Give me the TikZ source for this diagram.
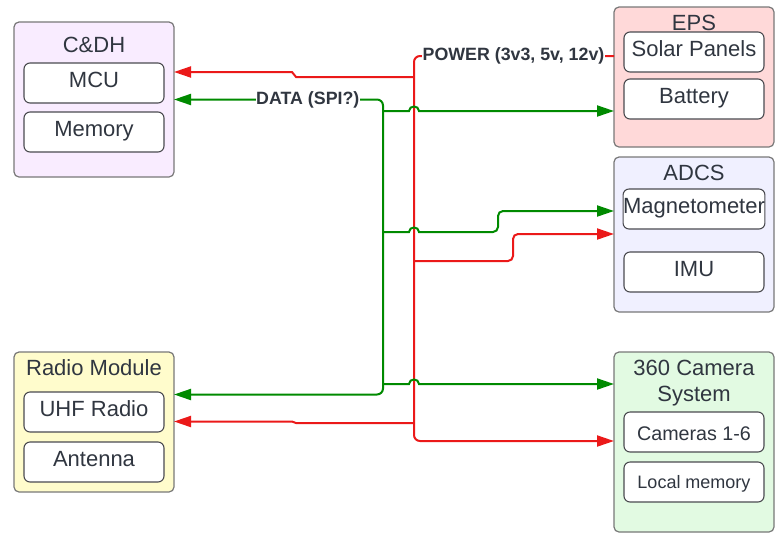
\documentclass[tikz,border=0pt]{standalone}
\usepackage{fontspec}
\setmainfont{Liberation Sans}
\usetikzlibrary{arrows.meta}
\definecolor{txt}{RGB}{48,54,64}
\definecolor{pwr}{RGB}{235,25,25}
\definecolor{dat}{RGB}{0,138,0}
\definecolor{cdhfill}{RGB}{249,236,255}
\definecolor{epsfill}{RGB}{255,217,217}
\definecolor{adcsfill}{RGB}{240,240,255}
\definecolor{radfill}{RGB}{255,252,204}
\definecolor{camfill}{RGB}{226,250,226}
\definecolor{outerline}{RGB}{120,120,120}
\definecolor{innerline}{RGB}{75,75,80}
\tikzset{
  outerbox/.style={draw=outerline, line width=1.2pt, rounded corners=5pt, inner sep=0pt, outer sep=0pt, anchor=north west, minimum width=160pt},
  innerbox/.style={draw=innerline, fill=white, line width=1.1pt, rounded corners=6pt, inner sep=0pt, outer sep=0pt, minimum width=140pt, minimum height=40pt, text=txt, font=\fontsize{22}{25}\selectfont, text height=9.4pt, text depth=0pt},
  ttl/.style={text=txt, font=\fontsize{22}{26.7}\selectfont, anchor=base, inner sep=0pt},
  lbl/.style={text=txt, font=\fontsize{17.8}{20}\selectfont\bfseries, anchor=base, inner sep=0.6pt, fill=white},
  pw/.style={draw=pwr, line width=2pt},
  dt/.style={draw=dat, line width=2pt},
  tip/.style={-{Triangle[length=17pt,width=11pt]}},
}
\begin{document}
\begin{tikzpicture}[x=1pt,y=-1pt]
\useasboundingbox (0,0) rectangle (782,542);
% blocks
\node[outerbox, fill=cdhfill, minimum height=155pt] (cdh) at (14,22) {};
\node[ttl] (cdhT) at (94,52.3) {C\&DH};
\node[innerbox] (mcu) at (94,83) {MCU};
\node[innerbox] (mem) at (94,132) {Memory};

\node[outerbox, fill=epsfill, minimum height=140pt] (eps) at (614,7) {};
\node[ttl] (epsT) at (694,30) {EPS};
\node[innerbox] (sol) at (694,52) {Solar Panels};
\node[innerbox] (bat) at (694,99) {Battery};

\node[outerbox, fill=adcsfill, minimum height=155pt] (adcs) at (614,157) {};
\node[ttl] (adcsT) at (694,180) {ADCS};
\node[innerbox] (mag) at (694,209) {Magnetometer};
\node[innerbox] (imu) at (694,272) {IMU};

\node[outerbox, fill=radfill, minimum height=140pt] (radio) at (14,352) {};
\node[ttl] (radioT) at (94,375) {Radio Module};
\node[innerbox] (uhf) at (94,412) {UHF Radio};
\node[innerbox] (ant) at (94,462) {Antenna};

\node[outerbox, fill=camfill, minimum height=180pt] (cam) at (614,352) {};
\node[ttl] (camT1) at (694,375) {360 Camera};
\node[ttl] (camT2) at (694,401.7) {System};
\node[innerbox, font=\fontsize{19.7}{23}\selectfont, text height=16pt] (cams) at (694,432) {Cameras 1-6};
\node[innerbox, font=\fontsize{18}{21}\selectfont, text height=12.6pt] (lmem) at (694,482) {Local memory};

% power trunk
\draw[pw, tip, rounded corners=6pt] (eps.west |- 0,56) -- (414,56) -- (414,441) -- (cam.west |- 0,441);
\draw[pw, tip] (414,77) -- (296,77) -- (292,72) -- (cdh.east |- 0,72);
\draw[pw, tip, rounded corners=5pt] (414,261) -- (513,261) -- (513,234) -- (adcs.west |- 0,234);
\draw[pw, tip] (414,423) -- (296,423) -- (292,421.5) -- (radio.east |- 0,421.5);

% data trunk
\draw[dt, {Triangle[length=17pt,width=11pt]}-{Triangle[length=17pt,width=11pt]}, rounded corners=6pt]
  (cdh.east |- 0,99.5) -- (383,99.5) -- (383,394.5) -- (radio.east |- 0,394.5);
\draw[dt, tip] (383,111) -- (409,111) .. controls (409,105) and (419,105) .. (419,111) -- (eps.west |- 0,111);
\draw[dt, tip] (383,232) -- (409,232) .. controls (409,226) and (419,226) .. (419,232) -- (430,232)
  [rounded corners=5pt] -- (498,232) -- (498,211) -- (adcs.west |- 0,211);
\draw[dt, tip] (383,384) -- (409,384) .. controls (409,378) and (419,378) .. (419,384) -- (cam.west |- 0,384);

% labels
\node[lbl] (powerL) at (513.5,60) {POWER (3v3, 5v, 12v)};
\node[lbl] (dataL) at (307.8,104) {DATA (SPI?)};
\end{tikzpicture}
\end{document}
